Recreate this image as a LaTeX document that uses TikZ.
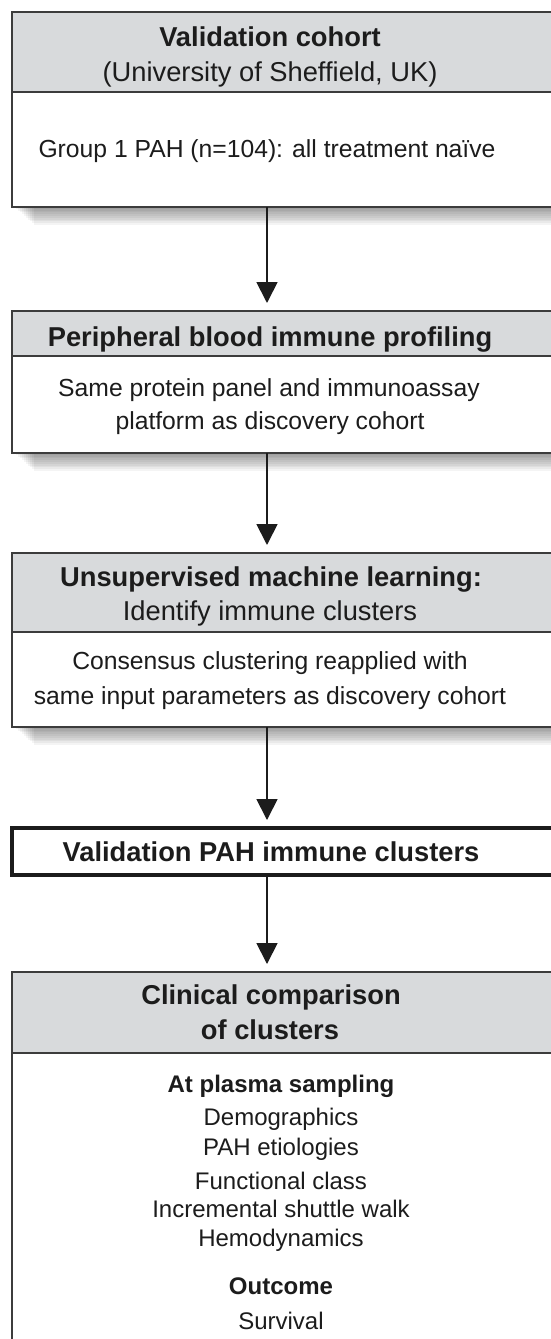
\documentclass[tikz,border=0pt]{standalone}
\usepackage{fontspec}
\setmainfont{Liberation Sans}
\usetikzlibrary{arrows.meta,calc}
\definecolor{hdr}{RGB}{216,218,220}
\definecolor{edge}{RGB}{60,60,60}
\definecolor{ink}{RGB}{28,28,28}
\newcommand{\hfnt}{\fontsize{27.3}{30}\selectfont}
\newcommand{\bfnt}{\fontsize{24.7}{28}\selectfont}
\newcommand{\cfnt}{\fontsize{24}{28}\selectfont}
\newcommand{\shadowunder}[1]{%
  \foreach \i in {1,...,10}{%
    \fill[black,opacity=0.045] ($(#1.south west)+(2+2*\i,0)$) rectangle ($(#1.south east)+(0,-1.8*\i)$);}}
\begin{document}
\begin{tikzpicture}[x=1pt,y=1pt,
  frame/.style={draw=edge, line width=1.3pt, rectangle, anchor=north west,
    minimum width=560pt, inner sep=0pt, outer sep=0pt},
  hdrbox/.style={frame, fill=hdr},
  thickframe/.style={frame, draw=ink, line width=3.6pt},
  txt/.style={anchor=base, inner sep=0pt, outer sep=0pt, text=ink},
  arr/.style={draw=ink, line width=1.8pt, -{Triangle[width=21pt,length=21pt]}, shorten >=8pt},
]
\useasboundingbox (0,0) rectangle (551,-1339);
\clip (0,0) rectangle (551,-1339);
\fill[white] (0,0) rectangle (551,-1339);
\coordinate (ax) at (267,0);

% Box 1
\node[frame, minimum height=195pt] (b1) at (12,-12) {};
\shadowunder{b1}
\node[hdrbox, minimum height=80pt] (h1) at (12,-12) {};
\node[frame, minimum height=195pt] (b1) at (12,-12) {};
\node[txt, font=\hfnt\bfseries] (t1a) at (270,-46) {Validation cohort};
\node[txt, font=\hfnt] (t1b) at (270,-81) {(University of Sheffield, UK)};
\node[txt, font=\bfnt] (t1c) at (267,-157) {Group 1 PAH (n=104): all treatment naïve};

% Box 2
\node[frame, minimum height=142pt] (b2) at (12,-311) {};
\shadowunder{b2}
\node[hdrbox, minimum height=45pt] (h2) at (12,-311) {};
\node[frame, minimum height=142pt] (b2) at (12,-311) {};
\node[txt, font=\hfnt\bfseries] (t2a) at (270,-346) {Peripheral blood immune profiling};
\node[txt, font=\bfnt] (t2b) at (269,-396) {Same protein panel and immunoassay};
\node[txt, font=\bfnt] (t2c) at (270,-429) {platform as discovery cohort};

% Box 3
\node[frame, minimum height=174pt] (b3) at (12,-553) {};
\shadowunder{b3}
\node[hdrbox, minimum height=79pt] (h3) at (12,-553) {};
\node[frame, minimum height=174pt] (b3) at (12,-553) {};
\node[txt, font=\hfnt\bfseries] (t3a) at (271,-586) {Unsupervised machine learning:};
\node[txt, font=\hfnt] (t3b) at (270,-620) {Identify immune clusters};
\node[txt, font=\bfnt] (t3c) at (270,-669) {Consensus clustering reapplied with};
\node[txt, font=\bfnt] (t3d) at (270,-704) {same input parameters as discovery cohort};

% Box 4
\node[thickframe, minimum height=47pt] (b4) at (12,-828) {};
\node[txt, font=\hfnt\bfseries] (t4a) at (271,-861) {Validation PAH immune clusters};

% Box 5
\node[hdrbox, minimum height=81pt] (h5) at (12,-972) {};
\node[frame, minimum height=430pt] (b5) at (12,-972) {};
\node[txt, font=\hfnt\bfseries] (t5a) at (271,-1004) {Clinical comparison};
\node[txt, font=\hfnt\bfseries] (t5b) at (270,-1039) {of clusters};
\node[txt, font=\cfnt\bfseries] (t5c) at (281,-1092) {At plasma sampling};
\node[txt, font=\cfnt] (t5d) at (281,-1125) {Demographics};
\node[txt, font=\cfnt] (t5e) at (281,-1155) {PAH etiologies};
\node[txt, font=\cfnt] (t5f) at (281,-1189) {Functional class};
\node[txt, font=\cfnt] (t5g) at (281,-1217) {Incremental shuttle walk};
\node[txt, font=\cfnt] (t5h) at (281,-1246) {Hemodynamics};
\node[txt, font=\cfnt\bfseries] (t5i) at (281,-1294) {Outcome};
\node[txt, font=\cfnt] (t5j) at (281,-1329) {Survival};

% Arrows
\draw[arr] (b1.south -| ax) -- (b2.north -| ax);
\draw[arr] (b2.south -| ax) -- (b3.north -| ax);
\draw[arr] (b3.south -| ax) -- (b4.north -| ax);
\draw[arr] (b4.south -| ax) -- (b5.north -| ax);
\end{tikzpicture}
\end{document}
